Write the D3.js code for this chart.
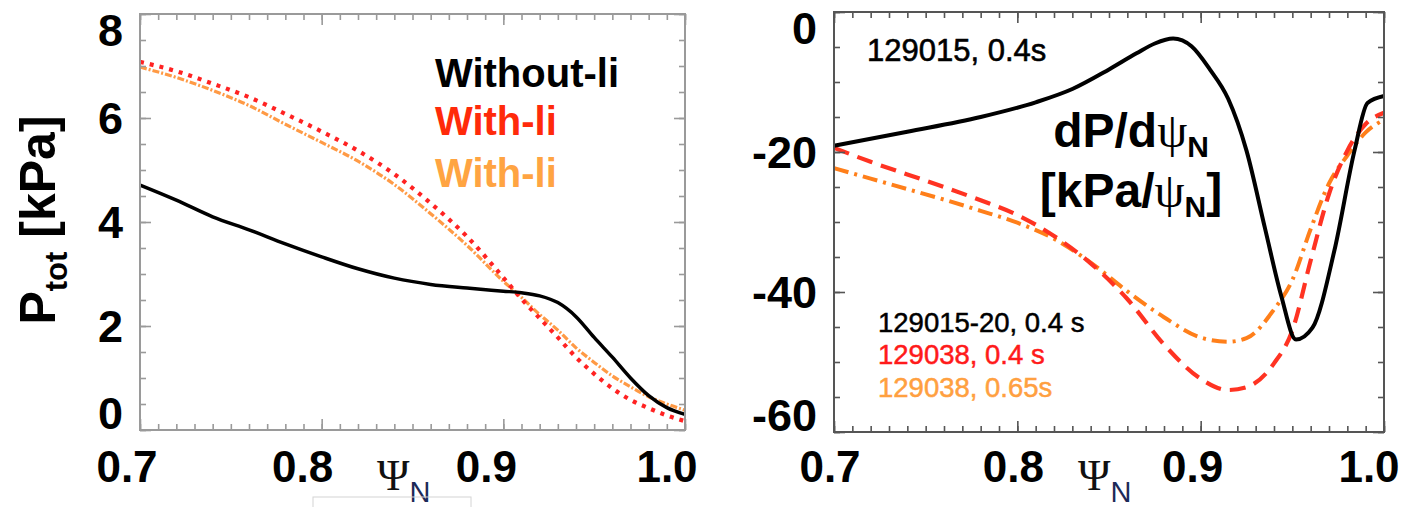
<!DOCTYPE html>
<html>
<head>
<meta charset="utf-8">
<script src="https://cdn.jsdelivr.net/npm/d3@7"></script>
<style>
  body { margin: 0; background: #fff; }
  svg text { font-family: "Liberation Sans", Arial, Helvetica, sans-serif; }
</style>
</head>
<body>
<div id="chart"></div>
<script>
// LEFT PANEL DATA  (P_tot in kPa vs psi_N)
var psiLeft     = [0.70, 0.72, 0.74, 0.76, 0.78, 0.80, 0.82, 0.84, 0.86, 0.88, 0.90, 0.91, 0.92, 0.93, 0.94, 0.95, 0.96, 0.97, 0.98, 0.99, 1.00];
var pWithout    = [4.71, 4.42, 4.10, 3.85, 3.58, 3.33, 3.10, 2.92, 2.80, 2.73, 2.67, 2.64, 2.58, 2.45, 2.18, 1.78, 1.40, 1.00, 0.66, 0.43, 0.30];
var pWithRed    = [7.08, 6.90, 6.66, 6.40, 6.08, 5.74, 5.37, 4.92, 4.36, 3.72, 2.93, 2.52, 2.15, 1.78, 1.40, 1.08, 0.80, 0.58, 0.42, 0.28, 0.17];
var pWithOrange = [6.98, 6.78, 6.53, 6.24, 5.88, 5.53, 5.17, 4.72, 4.16, 3.55, 2.86, 2.55, 2.22, 1.92, 1.58, 1.30, 1.04, 0.83, 0.64, 0.50, 0.38];

// RIGHT PANEL DATA  (dP/dpsi_N in kPa/psi_N)
var psiBlack = [0.70, 0.74, 0.78, 0.81, 0.83, 0.85, 0.865, 0.875, 0.885, 0.895, 0.905, 0.915, 0.925, 0.935, 0.944, 0.952, 0.961, 0.973, 0.984, 0.991, 1.00];
var dpBlack  = [-19.1, -17.1, -15.0, -12.9, -11.0, -8.2, -5.9, -4.5, -3.8, -4.9, -8.2, -12.4, -19.8, -30.8, -40.6, -46.8, -45.1, -34.0, -19.7, -13.0, -12.0];
var psiRight = [0.70, 0.72, 0.74, 0.76, 0.78, 0.80, 0.82, 0.84, 0.86, 0.88, 0.90, 0.915, 0.925, 0.94, 0.95, 0.96, 0.97, 0.98, 0.99, 1.00];
var dpRed    = [-19.4, -21.4, -23.2, -25.0, -26.9, -29.0, -32.0, -35.9, -41.0, -47.5, -52.4, -54.0, -53.6, -50.2, -45.5, -35.5, -26.0, -19.8, -16.0, -14.4];
var dpOrange = [-22.3, -23.8, -25.3, -26.8, -28.4, -30.1, -32.4, -35.8, -39.9, -43.6, -46.5, -47.1, -46.6, -42.5, -38.3, -31.0, -24.5, -20.5, -17.2, -15.4];

// TICKS
var xTicks = [0.7, 0.8, 0.9, 1.0];
var xTickLabels = ["0.7", "0.8", "0.9", "1.0"];
var leftYTicks = [0, 2, 4, 6, 8];
var rightYTicks = [-60, -40, -20, 0];

// LEGENDS
var leftLegend = ["Without-li", "With-li", "With-li"];
var rightLegend = ["129015-20, 0.4 s", "129038, 0.4 s", "129038, 0.65s"];

var svg = d3.select('#chart').append('svg')
  .attr('width', 1406)
  .attr('height', 507)
  .style('display', 'block');

svg.append('rect').attr('width', 1406).attr('height', 507).attr('fill', '#fff');

function zip(xs, ys) {
  return xs.map(function (d, i) { return [d, ys[i]]; });
}

// draws the box, inward ticks on all four sides and the tick labels
function drawFrame(x, y, opt) {
  var x0 = x.range()[0], x1 = x.range()[1];
  var yb = y.range()[0], yt = y.range()[1];
  var g = svg.append('g');

  var minorX = d3.range(70, 101).map(function (d) { return d / 100; });
  var minorY = d3.range(opt.yMin, opt.yMax + 1e-9, opt.yMinorStep);

  function ticks(axis, tr, vals, len) {
    var a = g.append('g').attr('transform', tr)
      .call(axis.tickValues(vals).tickSize(-len).tickFormat(''));
    a.select('.domain').remove();
    a.selectAll('line').attr('stroke', opt.frameColor).attr('stroke-width', 1.6);
  }
  ticks(d3.axisBottom(x), 'translate(0,' + yb + ')', minorX, 6);
  ticks(d3.axisBottom(x), 'translate(0,' + yb + ')', xTicks, 11);
  ticks(d3.axisTop(x), 'translate(0,' + yt + ')', minorX, 6);
  ticks(d3.axisTop(x), 'translate(0,' + yt + ')', xTicks, 11);
  ticks(d3.axisLeft(y), 'translate(' + x0 + ',0)', minorY, 6);
  ticks(d3.axisLeft(y), 'translate(' + x0 + ',0)', opt.yTicks, 11);
  ticks(d3.axisRight(y), 'translate(' + x1 + ',0)', minorY, 6);
  ticks(d3.axisRight(y), 'translate(' + x1 + ',0)', opt.yTicks, 11);

  g.append('rect')
    .attr('x', x0).attr('y', yt)
    .attr('width', x1 - x0).attr('height', yb - yt)
    .attr('fill', 'none')
    .attr('stroke', opt.frameColor)
    .attr('stroke-width', 2);

  // y labels (end ones pulled inside the box)
  g.selectAll('.ylab').data(opt.yTicks).enter().append('text')
    .attr('x', x0 - 17)
    .attr('y', function (d) {
      return Math.max(yt + 16, Math.min(yb - 17, y(d)));
    })
    .attr('dy', '0.36em')
    .attr('text-anchor', 'end')
    .style('font-size', '45px')
    .style('font-weight', 'bold')
    .text(function (d) { return d; });

  // x labels
  g.selectAll('.xlab').data(xTicks).enter().append('text')
    .attr('x', function (d, i) { return x(d) + opt.xLabelShift[i]; })
    .attr('y', 482)
    .attr('text-anchor', 'middle')
    .style('font-size', '44px')
    .style('font-weight', 'bold')
    .text(function (d, i) { return xTickLabels[i]; });

  // psi_N axis title
  var t = g.append('text').attr('x', opt.psiX).attr('y', 490);
  t.append('tspan').style('font-family', '"Liberation Serif", "Times New Roman", serif')
    .style('font-size', '44px').attr('fill', '#111').text('\u03A8');
  t.append('tspan').attr('dy', 12).style('font-size', '29px').attr('fill', '#1c2a58').text('N');
}

function drawLine(x, y, pts, color, width, dash, curve) {
  var line = d3.line()
    .x(function (d) { return x(d[0]); })
    .y(function (d) { return y(d[1]); })
    .curve(curve || d3.curveMonotoneX);
  svg.append('path')
    .datum(pts)
    .attr('d', line)
    .attr('fill', 'none')
    .attr('stroke', color)
    .attr('stroke-width', width)
    .attr('stroke-dasharray', dash)
    .attr('stroke-linejoin', 'round');
}

//LEFT PANEL
var xL = d3.scaleLinear().domain([0.7, 1.0]).range([140, 685]);
var yL = d3.scaleLinear().domain([0, 8]).range([430, 14]);

drawLine(xL, yL, zip(psiLeft, pWithOrange), '#ff9a45', 3.2, '7,2,2,2');
drawLine(xL, yL, zip(psiLeft, pWithRed), '#ff2222', 4.2, '4,6');
drawLine(xL, yL, zip(psiLeft, pWithout), '#000', 3.5, null);

drawFrame(xL, yL, {
  yMin: 0, yMax: 8, yMinorStep: 0.5, yTicks: leftYTicks,
  frameColor: '#9a9a9a', xLabelShift: [-13, -19, -17, -18], psiX: 377
});

var ptot = svg.append('text')
  .attr('transform', 'translate(55,220) rotate(-90)')
  .attr('text-anchor', 'middle')
  .style('font-size', '50px')
  .style('font-weight', 'bold');
ptot.append('tspan').text('P');
ptot.append('tspan').attr('dy', 12).style('font-size', '31px').text('tot');
ptot.append('tspan').attr('dy', -12).text(' [kPa]');

var legColors = ['#000', '#ff2a0a', '#ffa442'];
svg.selectAll('.lleg').data(leftLegend).enter().append('text')
  .attr('x', 435)
  .attr('y', function (d, i) { return [87, 135, 187][i]; })
  .attr('fill', function (d, i) { return legColors[i]; })
  .style('font-size', '40px')
  .style('font-weight', 'bold')
  .text(function (d) { return d; });

// faint box under the left axis
svg.append('rect').attr('x', 313).attr('y', 497).attr('width', 158).attr('height', 20)
  .attr('fill', 'none').attr('stroke', '#d4d4d4').attr('stroke-width', 1);

//RIGHT PANEL
var xR = d3.scaleLinear().domain([0.7, 1.0]).range([834, 1384]);
var yR = d3.scaleLinear().domain([-60, 0]).range([432, 12]);

drawLine(xR, yR, zip(psiRight, dpOrange), '#ff7f1a', 4, '15,6,3,6');
drawLine(xR, yR, zip(psiRight, dpRed), '#ff3322', 4.2, '16,9');
drawLine(xR, yR, zip(psiBlack, dpBlack), '#000', 4, null);

drawFrame(xR, yR, {
  yMin: -60, yMax: 0, yMinorStep: 5, yTicks: rightYTicks,
  frameColor: '#555', xLabelShift: [-4, -4, -8, -15], psiX: 1078
});

svg.append('text')
  .attr('x', 867).attr('y', 61)
  .attr('stroke', '#000').attr('stroke-width', 0.6)
  .style('font-size', '31px')
  .text('129015, 0.4s');

var rColors = ['#000', '#ff1a1a', '#ffa040'];
svg.selectAll('.rleg').data(rightLegend).enter().append('text')
  .attr('x', 878)
  .attr('y', function (d, i) { return [332, 364, 397][i]; })
  .attr('fill', function (d, i) { return rColors[i]; })
  .attr('stroke', function (d, i) { return rColors[i]; })
  .attr('stroke-width', 0.5)
  .style('font-size', '27.5px')
  .text(function (d) { return d; });

// dP/dpsi_N label
function psiLabel(yPos, pre, post) {
  var t = svg.append('text')
    .attr('x', 1131).attr('y', yPos)
    .attr('text-anchor', 'middle')
    .style('font-size', '48px')
    .style('font-weight', 'bold');
  t.append('tspan').text(pre);
  t.append('tspan').style('font-family', '"Liberation Serif", "Times New Roman", serif')
    .style('font-weight', 'normal').text('\u03C8');
  t.append('tspan').attr('dy', 10).style('font-size', '30px').text('N');
  if (post) t.append('tspan').attr('dy', -10).text(post);
}
psiLabel(147, 'dP/d', null);
psiLabel(207, '[kPa/', ']');
</script>
</body>
</html>
